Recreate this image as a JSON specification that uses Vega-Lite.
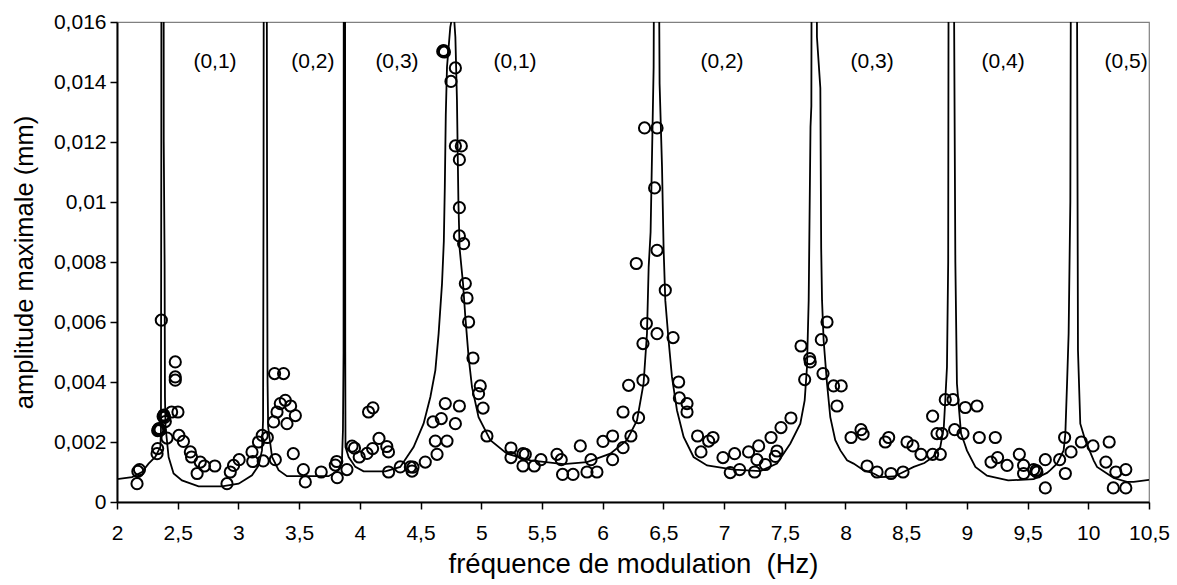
{
 "$schema": "https://vega.github.io/schema/vega-lite/v6.json",
 "width": 1032,
 "height": 480,
 "autosize": "none",
 "padding": {"left": 117, "top": 22, "right": 28, "bottom": 83},
 "background": "white",
 "config": {
  "font": "Liberation Sans",
  "view": {"stroke": "#808080", "strokeWidth": 1.2},
  "axis": {"grid": false, "domainColor": "black", "domainWidth": 2, "tickColor": "black", "tickWidth": 1.5, "tickSize": 7, "labelColor": "black", "labelFontSize": 21, "titleColor": "black", "titleFontWeight": "normal", "labelFlush": false, "labelOverlap": false}
 },
 "datasets": {
  "curve": [
   {"f":2.0,"a":0.00076},{"f":2.124,"a":0.00083},{"f":2.206,"a":0.001},{"f":2.26,"a":0.00128},{"f":2.315,"a":0.0015},{"f":2.357,"a":0.00183},{"f":2.362,"a":0.00239},{"f":2.365,"a":0.012},{"f":2.366,"a":0.02},{"f":2.384,"a":0.02},{"f":2.385,"a":0.012},{"f":2.392,"a":0.008},{"f":2.395,"a":0.0035},{"f":2.4,"a":0.0025},{"f":2.425,"a":0.0015},{"f":2.466,"a":0.00095},{"f":2.535,"a":0.00072},{"f":2.672,"a":0.00052},{"f":2.865,"a":0.00052},{"f":3.002,"a":0.00061},{"f":3.112,"a":0.00089},{"f":3.167,"a":0.00122},{"f":3.194,"a":0.00172},{"f":3.203,"a":0.00272},{"f":3.207,"a":0.01},{"f":3.209,"a":0.02},{"f":3.233,"a":0.02},{"f":3.236,"a":0.01},{"f":3.24,"a":0.004},{"f":3.245,"a":0.0025},{"f":3.277,"a":0.0015},{"f":3.331,"a":0.00106},{"f":3.4,"a":0.00086},{"f":3.743,"a":0.00086},{"f":3.825,"a":0.00106},{"f":3.853,"a":0.00139},{"f":3.861,"a":0.00239},{"f":3.866,"a":0.005},{"f":3.868,"a":0.02},{"f":3.878,"a":0.02},{"f":3.88,"a":0.005},{"f":3.882,"a":0.00183},{"f":3.908,"a":0.0015},{"f":3.963,"a":0.00117},{"f":4.031,"a":0.00102},{"f":4.21,"a":0.00102},{"f":4.333,"a":0.00117},{"f":4.443,"a":0.00183},{"f":4.525,"a":0.00261},{"f":4.581,"a":0.0035},{"f":4.622,"a":0.00439},{"f":4.649,"a":0.00561},{"f":4.677,"a":0.00728},{"f":4.692,"a":0.0087},{"f":4.7,"a":0.0105},{"f":4.708,"a":0.0129},{"f":4.718,"a":0.0145},{"f":4.745,"a":0.01583},{"f":4.772,"a":0.0164},{"f":4.787,"a":0.0155},{"f":4.8,"a":0.01339},{"f":4.812,"a":0.01},{"f":4.822,"a":0.00845},{"f":4.85,"a":0.00728},{"f":4.869,"a":0.00617},{"f":4.896,"a":0.00483},{"f":4.924,"a":0.00383},{"f":4.978,"a":0.00283},{"f":5.075,"a":0.00206},{"f":5.212,"a":0.00161},{"f":5.404,"a":0.00139},{"f":5.679,"a":0.00126},{"f":5.871,"a":0.00133},{"f":6.063,"a":0.00161},{"f":6.2,"a":0.00206},{"f":6.283,"a":0.00272},{"f":6.337,"a":0.00395},{"f":6.365,"a":0.00561},{"f":6.379,"a":0.00783},{"f":6.395,"a":0.009},{"f":6.42,"a":0.0145},{"f":6.425,"a":0.02},{"f":6.461,"a":0.02},{"f":6.469,"a":0.01395},{"f":6.489,"a":0.01117},{"f":6.502,"a":0.00845},{"f":6.516,"a":0.00672},{"f":6.543,"a":0.00539},{"f":6.571,"a":0.00417},{"f":6.612,"a":0.00306},{"f":6.667,"a":0.00217},{"f":6.749,"a":0.0015},{"f":6.86,"a":0.00122},{"f":7.079,"a":0.00108},{"f":7.299,"a":0.00103},{"f":7.436,"a":0.00128},{"f":7.546,"a":0.00195},{"f":7.628,"a":0.00261},{"f":7.664,"a":0.00339},{"f":7.683,"a":0.0045},{"f":7.697,"a":0.00672},{"f":7.712,"a":0.0125},{"f":7.719,"a":0.0132},{"f":7.722,"a":0.02},{"f":7.762,"a":0.02},{"f":7.765,"a":0.0155},{"f":7.793,"a":0.0138},{"f":7.8,"a":0.00845},{"f":7.807,"a":0.00672},{"f":7.82,"a":0.00539},{"f":7.848,"a":0.00395},{"f":7.875,"a":0.00283},{"f":7.916,"a":0.00206},{"f":7.958,"a":0.00172},{"f":8.013,"a":0.00139},{"f":8.067,"a":0.00128},{"f":8.149,"a":0.00106},{"f":8.232,"a":0.00095},{"f":8.287,"a":0.00083},{"f":8.4,"a":0.00085},{"f":8.452,"a":0.00095},{"f":8.562,"a":0.00117},{"f":8.65,"a":0.0013},{"f":8.72,"a":0.0015},{"f":8.781,"a":0.00183},{"f":8.81,"a":0.0025},{"f":8.822,"a":0.00339},{"f":8.836,"a":0.0045},{"f":8.846,"a":0.008},{"f":8.85,"a":0.02},{"f":8.89,"a":0.02},{"f":8.905,"a":0.008},{"f":8.918,"a":0.00395},{"f":8.935,"a":0.0031},{"f":8.952,"a":0.00228},{"f":8.981,"a":0.00195},{"f":9.0,"a":0.00172},{"f":9.07,"a":0.00117},{"f":9.166,"a":0.00088},{"f":9.22,"a":0.00083},{"f":9.34,"a":0.00072},{"f":9.55,"a":0.00076},{"f":9.66,"a":0.00097},{"f":9.687,"a":0.00106},{"f":9.742,"a":0.00128},{"f":9.77,"a":0.0015},{"f":9.797,"a":0.00172},{"f":9.811,"a":0.00228},{"f":9.825,"a":0.00395},{"f":9.838,"a":0.00561},{"f":9.852,"a":0.01},{"f":9.858,"a":0.02},{"f":9.905,"a":0.02},{"f":9.915,"a":0.00506},{"f":9.934,"a":0.00261},{"f":9.975,"a":0.00206},{"f":10.044,"a":0.00139},{"f":10.072,"a":0.00117},{"f":10.154,"a":0.00095},{"f":10.209,"a":0.0008},{"f":10.319,"a":0.00067},{"f":10.374,"a":0.00067},{"f":10.5,"a":0.00074}
  ],
  "pts": [
   {"f":2.165,"a":0.00061},{"f":2.172,"a":0.00102},{"f":2.185,"a":0.00108},{"f":2.33,"a":0.00161},{"f":2.335,"a":0.00178},{"f":2.335,"a":0.00238},{"f":2.341,"a":0.00243},{"f":2.348,"a":0.00245},{"f":2.355,"a":0.0024},{"f":2.365,"a":0.00606},{"f":2.38,"a":0.00285},{"f":2.386,"a":0.0029},{"f":2.392,"a":0.00282},{"f":2.398,"a":0.00268},{"f":2.412,"a":0.00213},{"f":2.45,"a":0.003},{"f":2.48,"a":0.00467},{"f":2.48,"a":0.00417},{"f":2.48,"a":0.00406},{"f":2.502,"a":0.003},{"f":2.51,"a":0.00222},{"f":2.547,"a":0.00202},{"f":2.604,"a":0.00167},{"f":2.614,"a":0.0015},{"f":2.66,"a":0.00095},{"f":2.686,"a":0.00133},{"f":2.72,"a":0.0012},{"f":2.806,"a":0.0012},{"f":2.906,"a":0.00061},{"f":2.933,"a":0.001},{"f":2.96,"a":0.00122},{"f":3.006,"a":0.00141},{"f":3.112,"a":0.00167},{"f":3.118,"a":0.00135},{"f":3.165,"a":0.002},{"f":3.196,"a":0.00222},{"f":3.204,"a":0.00137},{"f":3.238,"a":0.00215},{"f":3.29,"a":0.00267},{"f":3.298,"a":0.00428},{"f":3.304,"a":0.00141},{"f":3.318,"a":0.003},{"f":3.345,"a":0.00328},{"f":3.372,"a":0.00428},{"f":3.386,"a":0.00339},{"f":3.43,"a":0.0032},{"f":3.4,"a":0.00261},{"f":3.469,"a":0.00288},{"f":3.452,"a":0.00161},{"f":3.535,"a":0.00108},{"f":3.551,"a":0.00067},{"f":3.682,"a":0.001},{"f":3.798,"a":0.00123},{"f":3.81,"a":0.00135},{"f":3.814,"a":0.00081},{"f":3.894,"a":0.00108},{"f":3.936,"a":0.00186},{"f":3.956,"a":0.0018},{"f":3.995,"a":0.0015},{"f":4.059,"a":0.00162},{"f":4.072,"a":0.003},{"f":4.108,"a":0.00314},{"f":4.105,"a":0.00178},{"f":4.158,"a":0.00212},{"f":4.222,"a":0.00185},{"f":4.236,"a":0.00167},{"f":4.237,"a":0.001},{"f":4.333,"a":0.00117},{"f":4.416,"a":0.00117},{"f":4.43,"a":0.00103},{"f":4.438,"a":0.00116},{"f":4.539,"a":0.00133},{"f":4.636,"a":0.00159},{"f":4.622,"a":0.00203},{"f":4.718,"a":0.00203},{"f":4.603,"a":0.00267},{"f":4.671,"a":0.00278},{"f":4.704,"a":0.00328},{"f":4.787,"a":0.00261},{"f":4.82,"a":0.0032},{"f":4.82,"a":0.00981},{"f":4.82,"a":0.00887},{"f":4.855,"a":0.00861},{"f":4.869,"a":0.00728},{"f":4.883,"a":0.0068},{"f":4.896,"a":0.006},{"f":4.932,"a":0.0048},{"f":4.992,"a":0.00387},{"f":4.978,"a":0.00361},{"f":5.015,"a":0.00313},{"f":5.047,"a":0.0022},{"f":5.245,"a":0.0018},{"f":5.245,"a":0.00148},{"f":5.344,"a":0.00161},{"f":5.363,"a":0.00159},{"f":5.344,"a":0.0012},{"f":5.437,"a":0.0012},{"f":5.492,"a":0.00141},{"f":5.624,"a":0.00159},{"f":5.659,"a":0.00141},{"f":5.67,"a":0.00092},{"f":5.756,"a":0.00092},{"f":5.816,"a":0.00187},{"f":5.871,"a":0.001},{"f":5.904,"a":0.00141},{"f":5.953,"a":0.001},{"f":6.003,"a":0.00202},{"f":6.082,"a":0.0022},{"f":6.082,"a":0.00141},{"f":6.168,"a":0.003},{"f":6.168,"a":0.00181},{"f":6.214,"a":0.00389},{"f":6.233,"a":0.0022},{"f":6.277,"a":0.00795},{"f":6.296,"a":0.00281},{"f":6.332,"a":0.00406},{"f":6.332,"a":0.00528},{"f":6.36,"a":0.00595},{"f":6.448,"a":0.00561},{"f":6.58,"a":0.00548},{"f":6.626,"a":0.004},{"f":6.632,"a":0.00347},{"f":6.695,"a":0.00328},{"f":6.695,"a":0.003},{"f":6.782,"a":0.0022},{"f":6.81,"a":0.00167},{"f":6.873,"a":0.00203},{"f":6.909,"a":0.00215},{"f":6.991,"a":0.00148},{"f":7.051,"a":0.00098},{"f":7.087,"a":0.00161},{"f":7.128,"a":0.00108},{"f":7.202,"a":0.00167},{"f":7.252,"a":0.001},{"f":7.271,"a":0.00141},{"f":7.285,"a":0.00187},{"f":7.34,"a":0.00125},{"f":7.387,"a":0.00215},{"f":7.422,"a":0.00152},{"f":7.436,"a":0.0017},{"f":7.469,"a":0.00248},{"f":7.551,"a":0.0028},{"f":7.634,"a":0.0052},{"f":7.664,"a":0.00408},{"f":7.705,"a":0.00478},{"f":7.71,"a":0.00467},{"f":7.801,"a":0.00541},{"f":7.848,"a":0.006},{"f":7.815,"a":0.00428},{"f":7.902,"a":0.00387},{"f":7.965,"a":0.00387},{"f":7.93,"a":0.0032},{"f":8.046,"a":0.00215},{"f":8.128,"a":0.00241},{"f":8.145,"a":0.00226},{"f":8.178,"a":0.0012},{"f":8.26,"a":0.001},{"f":8.375,"a":0.00095},{"f":8.474,"a":0.001},{"f":8.328,"a":0.002},{"f":8.356,"a":0.00215},{"f":8.507,"a":0.002},{"f":8.556,"a":0.00187},{"f":8.622,"a":0.00159},{"f":8.718,"a":0.00159},{"f":8.781,"a":0.00159},{"f":8.718,"a":0.00286},{"f":8.754,"a":0.00228},{"f":8.795,"a":0.00228},{"f":8.822,"a":0.00341},{"f":8.886,"a":0.00341},{"f":8.899,"a":0.00241},{"f":8.968,"a":0.00228},{"f":8.987,"a":0.00315},{"f":9.083,"a":0.0032},{"f":9.102,"a":0.00215},{"f":9.234,"a":0.00215},{"f":9.199,"a":0.00133},{"f":9.253,"a":0.00148},{"f":9.331,"a":0.00122},{"f":9.432,"a":0.00159},{"f":9.467,"a":0.00122},{"f":9.467,"a":0.00095},{"f":9.55,"a":0.00108},{"f":9.577,"a":0.001},{"f":9.57,"a":0.00105},{"f":9.646,"a":0.00141},{"f":9.646,"a":0.00047},{"f":9.764,"a":0.00141},{"f":9.805,"a":0.00215},{"f":9.811,"a":0.00095},{"f":9.858,"a":0.00167},{"f":9.943,"a":0.002},{"f":10.039,"a":0.00187},{"f":10.172,"a":0.002},{"f":10.145,"a":0.00133},{"f":10.227,"a":0.001},{"f":10.309,"a":0.00108},{"f":10.206,"a":0.00047},{"f":10.309,"a":0.00047},{"f":4.683,"a":0.01502},{"f":4.69,"a":0.01505},{"f":4.697,"a":0.015},{"f":4.787,"a":0.01447},{"f":4.751,"a":0.01402},{"f":4.787,"a":0.01187},{"f":4.836,"a":0.01187},{"f":4.82,"a":0.01141},{"f":6.345,"a":0.01247},{"f":6.448,"a":0.01247},{"f":6.428,"a":0.01047},{"f":6.448,"a":0.00839},{"f":6.516,"a":0.00706}
  ],
  "labels": [
   {"f":2.807,"a":0.01467,"label":"(0,1)"},{"f":3.614,"a":0.01467,"label":"(0,2)"},{"f":4.306,"a":0.01467,"label":"(0,3)"},{"f":5.278,"a":0.01467,"label":"(0,1)"},{"f":6.983,"a":0.01467,"label":"(0,2)"},{"f":8.219,"a":0.01467,"label":"(0,3)"},{"f":9.298,"a":0.01467,"label":"(0,4)"},{"f":10.311,"a":0.01467,"label":"(0,5)"}
  ]
 },
 "encoding": {
  "x": {"field": "f", "type": "quantitative", "scale": {"domain": [2, 10.5], "nice": false, "zero": false},
        "axis": {"title": "fréquence de modulation \u00a0(Hz)", "titleFontSize": 27.5, "values": [2,2.5,3,3.5,4,4.5,5,5.5,6,6.5,7,7.5,8,8.5,9,9.5,10,10.5], "labelExpr": "replace(format(datum.value, '.1~f'), '.', ',')", "labelPadding": 13, "titlePadding": 7}},
  "y": {"field": "a", "type": "quantitative", "scale": {"domain": [0, 0.016], "nice": false, "zero": false},
        "axis": {"title": "amplitude maximale (mm)", "titleFontSize": 25.5, "values": [0,0.002,0.004,0.006,0.008,0.01,0.012,0.014,0.016], "labelExpr": "replace(format(datum.value, '.3~f'), '.', ',')", "labelPadding": 4, "titlePadding": 16}}
 },
 "layer": [
  {"data": {"name": "curve"}, "mark": {"type": "line", "color": "black", "strokeWidth": 1.8, "clip": true}},
  {"data": {"name": "pts"}, "mark": {"type": "point", "shape": "circle", "filled": false, "color": "black", "size": 125, "strokeWidth": 2, "opacity": 1}},
  {"data": {"name": "labels"}, "mark": {"type": "text", "fontSize": 21, "color": "black", "align": "center", "baseline": "middle"}, "encoding": {"text": {"field": "label"}}}
 ]
}
